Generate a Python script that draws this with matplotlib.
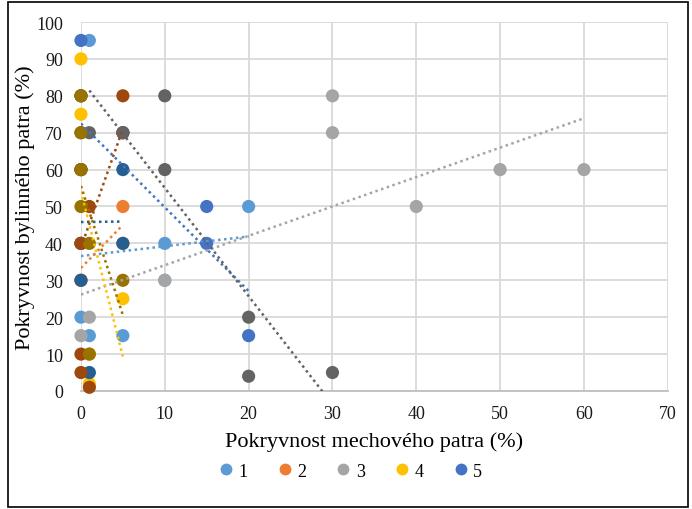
import numpy as np
import matplotlib
matplotlib.use("Agg")
import matplotlib.pyplot as plt
from matplotlib.patches import Rectangle
from matplotlib.lines import Line2D

plt.rcParams["font.family"] = ["Liberation Serif", "DejaVu Serif"]

# series values (x = moss cover %, y = herb cover %)
x1 = [1, 10, 20, 0, 1, 5, 0, 10]
y1 = [95, 40, 50, 20, 15, 15, 40, 30]
x2 = [0, 0, 0, 5, 5]
y2 = [30, 40, 30, 50, 40]
x3 = [30, 30, 50, 60, 40, 10, 1, 0]
y3 = [80, 70, 60, 60, 50, 30, 20, 15]
x4 = [0, 0, 5, 1, 0, 1]
y4 = [90, 75, 25, 2, 60, 10]
x5 = [0, 15, 15, 20, 0, 5]
y5 = [95, 50, 40, 15, 40, 70]
x7 = [5, 5, 0, 1, 0, 0]
y7 = [60, 40, 30, 5, 80, 60]
x8 = [5, 1, 0, 0, 0, 1, 0, 0, 5, 0]
y8 = [80, 50, 40, 10, 5, 1, 70, 60, 70, 80]
x9 = [1, 5, 10, 10, 20, 20, 30]
y9 = [70, 70, 80, 60, 20, 4, 5]
x10 = [0, 0, 0, 0, 1, 5, 1]
y10 = [80, 70, 60, 50, 40, 30, 10]

legend_labels = ["1", "2", "3", "4", "5"]

series = [
    (x1, y1, "#5B9BD5"),
    (x2, y2, "#ED7D31"),
    (x3, y3, "#A5A5A5"),
    (x4, y4, "#FFC000"),
    (x5, y5, "#4472C4"),
    (x7, y7, "#255E91"),
    (x8, y8, "#9E480E"),
    (x9, y9, "#636363"),
    (x10, y10, "#997300"),
]

fig = plt.figure(figsize=(6.92, 5.10), dpi=100)
ax = fig.add_axes([0.117, 0.2314, 0.848, 0.7235])

for i, (x, y, c) in enumerate(series):
    ax.scatter(x, y, s=90, color=c, edgecolors="none", zorder=3 + i * 0.01, clip_on=False)

# linear trendlines over each series' x range
for i, (x, y, c) in enumerate(series):
    k, b = np.polyfit(x, y, 1)
    xs = np.array([min(x), max(x)])
    ax.plot(xs, k * xs + b, color=c, lw=1.8, linestyle=(0, (1, 1.4)), zorder=4)

ax.set_xlim(0, 70)
ax.set_ylim(0, 100)
ax.set_xticks(range(0, 71, 10))
ax.set_yticks(range(0, 101, 10))
ax.grid(True, color="#D9D9D9", lw=1.3)
ax.set_axisbelow(True)
for s in ["top", "right", "left"]:
    ax.spines[s].set_visible(False)
ax.spines["bottom"].set_color("#BFBFBF")
ax.spines["bottom"].set_linewidth(1.3)
ax.tick_params(length=0, labelsize=13, colors="#1a1a1a", pad=13)
ax.tick_params(axis="x", pad=10)

ax.set_xlabel("Pokryvnost mechového patra (%)", fontsize=16, color="black", labelpad=7)
ax.set_ylabel("Pokryvnost bylinného patra (%)", fontsize=16, color="black")
ax.yaxis.set_label_coords(-0.078, 0.5)

handles = [Line2D([], [], marker="o", ls="", markersize=8.5, color=c, markeredgewidth=0)
           for _, _, c in series[:5]]
fig.legend(handles, legend_labels, loc="center", bbox_to_anchor=(0.505, 0.074), ncol=5,
           frameon=False, fontsize=13, handlelength=1.0, handletextpad=0.2,
           columnspacing=1.55)

fig.add_artist(Rectangle((8 / 692, 2 / 510), 680 / 692, 505 / 510, transform=fig.transFigure,
                         fill=False, edgecolor="black", lw=1.2))

fig.savefig("out.png", dpi=100)
